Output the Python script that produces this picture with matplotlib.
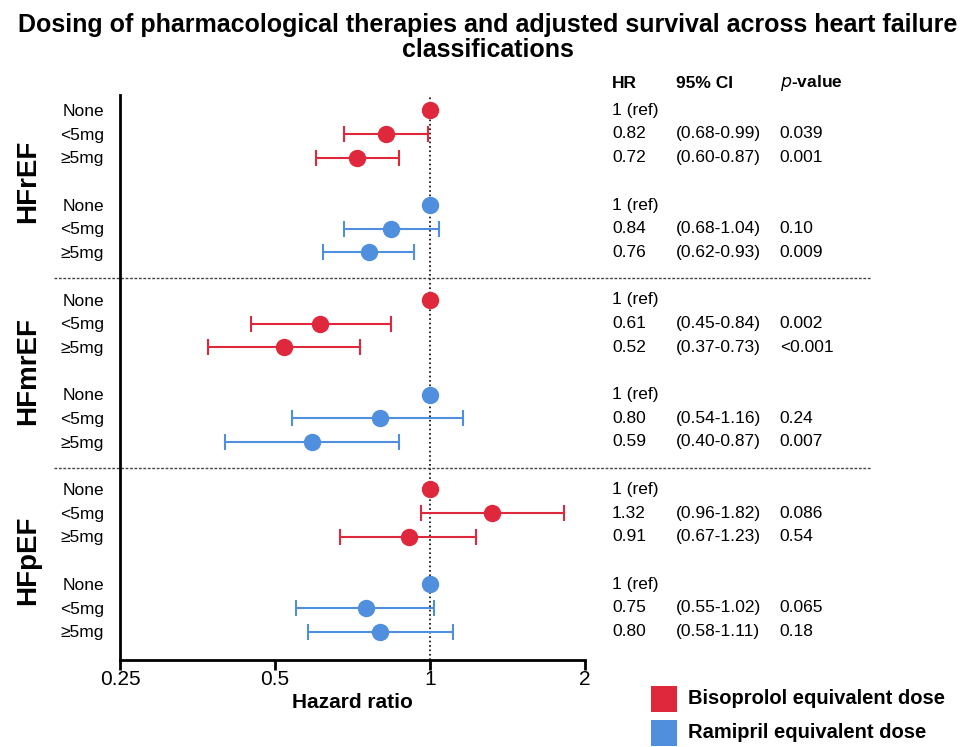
import matplotlib
matplotlib.use("Agg")
import matplotlib.pyplot as plt
import matplotlib.transforms as mtransforms
from matplotlib.patches import Rectangle

plt.rcParams['font.family'] = ['Liberation Sans', 'DejaVu Sans']

# data
groups = ['HFrEF', 'HFmrEF', 'HFpEF']
doses = ['None', '<5mg', '\u22655mg']
drugs = ['Bisoprolol equivalent dose', 'Ramipril equivalent dose']
colors = ['#E0283C', '#4F8FDE']

# order: HFrEF bisoprolol, HFrEF ramipril, HFmrEF bis, HFmrEF ram, HFpEF bis, HFpEF ram
hr = [[1.0, 0.82, 0.72], [1.0, 0.84, 0.76],
      [1.0, 0.61, 0.52], [1.0, 0.80, 0.59],
      [1.0, 1.32, 0.91], [1.0, 0.75, 0.80]]
ci_lo = [[None, 0.68, 0.60], [None, 0.68, 0.62],
         [None, 0.45, 0.37], [None, 0.54, 0.40],
         [None, 0.96, 0.67], [None, 0.55, 0.58]]
ci_hi = [[None, 0.99, 0.87], [None, 1.04, 0.93],
         [None, 0.84, 0.73], [None, 1.16, 0.87],
         [None, 1.82, 1.23], [None, 1.02, 1.11]]
pvals = [['', '0.039', '0.001'], ['', '0.10', '0.009'],
         ['', '0.002', '<0.001'], ['', '0.24', '0.007'],
         ['', '0.086', '0.54'], ['', '0.065', '0.18']]
xticks = [0.25, 0.5, 1, 2]
xticklabels = ['0.25', '0.5', '1', '2']


def main():
    fig = plt.figure(figsize=(9.76, 7.47), dpi=100)
    ax = fig.add_axes([0.123, 0.1165, 0.4764, 0.7565])
    blend = mtransforms.blended_transform_factory(fig.transFigure, ax.transData)
    lab_tr = mtransforms.offset_copy(ax.get_yaxis_transform(), fig=fig, x=-16, y=0, units='dots')
    fs_tab = 12.5

    for b in range(6):
        col = colors[b % 2]
        for i in range(3):
            y = b * 4 + i
            x = hr[b][i]
            if ci_lo[b][i] is not None:
                ax.errorbar(x, y, xerr=[[x - ci_lo[b][i]], [ci_hi[b][i] - x]],
                            fmt='none', ecolor=col, elinewidth=1.5,
                            capsize=6, capthick=1.5, zorder=2)
            ax.plot(x, y, 'o', color=col, markersize=11.5, zorder=3)
            ax.text(0, y + 0.05, doses[i], transform=lab_tr, ha='right', va='center', fontsize=12.5)
            # table
            if ci_lo[b][i] is None:
                ax.text(0.627, y, '1 (ref)', transform=blend, ha='left', va='center', fontsize=fs_tab)
            else:
                ax.text(0.627, y, f'{x:.2f}', transform=blend, ha='left', va='center', fontsize=fs_tab)
                ax.text(0.693, y, f'({ci_lo[b][i]:.2f}-{ci_hi[b][i]:.2f})', transform=blend,
                        ha='left', va='center', fontsize=fs_tab)
                ax.text(0.799, y, pvals[b][i], transform=blend, ha='left', va='center', fontsize=fs_tab)

    # headers
    ax.text(0.627, -1.15, 'HR', transform=blend, ha='left', va='center', fontsize=fs_tab, fontweight='bold')
    ax.text(0.693, -1.15, '95% CI', transform=blend, ha='left', va='center', fontsize=fs_tab, fontweight='bold')
    ax.text(0.799, -1.15, r'$\bf{\it{p}}$' + '-value', transform=blend, ha='left', va='center',
            fontsize=fs_tab, fontweight='bold')

    # group labels
    for g, name in enumerate(groups):
        ax.text(0.029, g * 8 + 3, name, transform=blend, rotation=90, ha='center', va='center',
                fontsize=20, fontweight='bold')

    # separators
    for ysep in [7.1, 15.1]:
        ax.plot([0.055, 0.892], [ysep, ysep], transform=blend, color='#444444',
                linestyle=(0, (2, 1.2)), linewidth=1, clip_on=False)

    ax.axvline(1, color='black', linestyle=':', linewidth=1.2, zorder=1)

    ax.set_xscale('log', base=2)
    ax.set_xlim(0.25, 2)
    ax.set_ylim(23.2, -0.65)
    ax.set_xticks(xticks)
    ax.set_xticklabels(xticklabels, fontsize=15)
    ax.minorticks_off()
    ax.set_yticks([])
    ax.spines['top'].set_visible(False)
    ax.spines['right'].set_visible(False)
    ax.spines['left'].set_linewidth(2)
    ax.spines['bottom'].set_linewidth(2)
    ax.tick_params(axis='x', length=7, width=2, pad=0)
    ax.set_xlabel('Hazard ratio', fontsize=15, fontweight='bold', labelpad=3)

    fig.text(0.5, 0.983, 'Dosing of pharmacological therapies and adjusted survival across heart failure\nclassifications',
             ha='center', va='top', fontsize=18, fontweight='bold', linespacing=1.05)

    # legend boxes
    for k, (name, col) in enumerate(zip(drugs, colors)):
        ytop = 686 + k * 34
        fig.patches.append(Rectangle((651 / 976, 1 - (ytop + 26) / 747), 26 / 976, 26 / 747,
                                     transform=fig.transFigure, facecolor=col, edgecolor='none'))
        fig.text(688 / 976, 1 - (ytop + 13) / 747, name, ha='left', va='center',
                 fontsize=14.5, fontweight='bold')

    fig.savefig('out.png', dpi=100)


if __name__ == "__main__":
    main()
